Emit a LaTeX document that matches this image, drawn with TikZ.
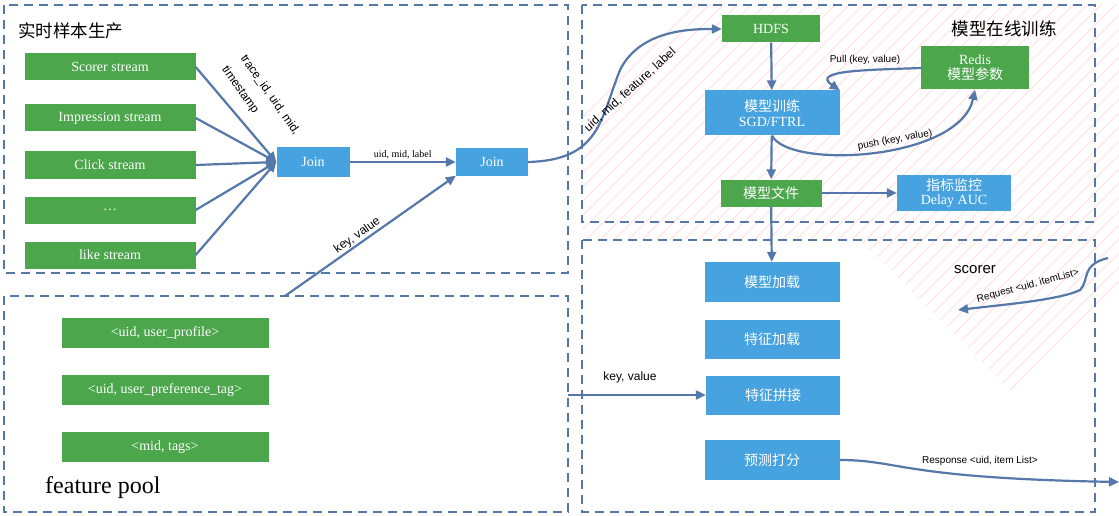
\documentclass[tikz,border=0pt]{standalone}
\usepackage{fontspec}
\newfontfamily\cjk{Noto Sans CJK SC}
\setmainfont{Liberation Serif}
\setsansfont{Liberation Sans}
\usetikzlibrary{arrows.meta}
\definecolor{gbox}{HTML}{4CA64C}
\definecolor{bbox}{HTML}{47A3E0}
\definecolor{lineb}{HTML}{5577AA}
\newcommand\fbx{\fontsize{14}{17}\selectfont}
\newcommand\flab{\fontsize{12}{14}\selectfont}
\newcommand\fsm{\fontsize{10}{12}\selectfont}
\begin{document}
\begin{tikzpicture}[x=1pt,y=-1pt,
 gb/.style={fill=gbox,text=white,minimum height=27pt,inner sep=0pt,font=\fbx},
 bb/.style={fill=bbox,text=white,inner sep=0pt,font=\fbx},
 pan/.style={draw=lineb,line width=2pt,dash pattern=on 9pt off 6pt},
 ar/.style={draw=lineb,line width=2.2pt,-{Triangle[length=10pt,width=9pt]}},
 lab/.style={font=\sffamily\flab,inner sep=1pt}]
\useasboundingbox (0,0) rectangle (1119,516);
\fill[white] (0,0) rectangle (1119,516);
\begin{scope}
\clip (582,5) rectangle (1119,516);
\foreach \i in {0,14,...,700} \draw[red!10,line width=1.2pt] (700+\i,0) -- (700+\i-520,520);
\fill[white] (582,240) -- (860,240) -- (1119,500) -- (1119,516) -- (582,516) -- cycle;
\end{scope}
\draw[pan] (4,5) rectangle (568,273);
\draw[pan] (4,296) rectangle (568,512);
\draw[pan] (582,5) rectangle (1095,222);
\draw[pan] (582,240) rectangle (1095,512);
\node[font=\cjk\fontsize{17.5}{20}\selectfont,anchor=west,inner sep=0pt] (t1) at (18,31) {实时样本生产};
\node[font=\fontsize{24}{26}\selectfont,anchor=west,inner sep=0pt] (t2) at (45,488) {feature pool};
\node[font=\cjk\fontsize{17.5}{20}\selectfont,anchor=east,inner sep=0pt] (t3) at (1057,29) {模型在线训练};
\node[font=\sffamily\fontsize{15}{17}\selectfont] (t4) at (975,270) {scorer};
\node[gb,minimum width=171pt] (s1) at (110,67) {Scorer stream};
\node[gb,minimum width=171pt] (s2) at (110,118) {Impression stream};
\node[gb,minimum width=171pt] (s3) at (110,165) {Click stream};
\node[gb,minimum width=171pt] (s4) at (110,210) {\dots};
\node[gb,minimum width=171pt] (s5) at (110,255) {like stream};
\node[bb,minimum width=73pt,minimum height=29pt] (j1) at (313,162) {Join};
\node[bb,minimum width=72pt,minimum height=27pt] (j2) at (492,162) {Join};
\node[gb,minimum width=207pt,minimum height=30pt] (f1) at (165,333) {<uid, user\_profile>};
\node[gb,minimum width=207pt,minimum height=30pt] (f2) at (165,390) {<uid, user\_preference\_tag>};
\node[gb,minimum width=207pt,minimum height=30pt] (f3) at (165,447) {<mid, tags>};
\node[gb,minimum width=98pt] (hdfs) at (771,29) {HDFS};
\node[gb,minimum width=108pt,minimum height=43pt,align=center,font=\cjk\fbx] (redis) at (975,68) {\rmfamily Redis\\[-2pt]模型参数};
\node[bb,minimum width=135pt,minimum height=45pt,align=center,font=\cjk\fbx] (train) at (772,113) {模型训练\\[-2pt]\rmfamily SGD/FTRL};
\node[gb,minimum width=101pt,font=\cjk\fbx] (mf) at (771,193) {模型文件};
\node[bb,minimum width=114pt,minimum height=36pt,align=center,font=\cjk\fbx] (mon) at (954,193) {指标监控\\[-3pt]\rmfamily Delay AUC};
\node[bb,minimum width=135pt,minimum height=40pt,font=\cjk\fbx] (l1) at (772,282) {模型加载};
\node[bb,minimum width=135pt,minimum height=39pt,font=\cjk\fbx] (l2) at (772,339) {特征加载};
\node[bb,minimum width=134pt,minimum height=39pt,font=\cjk\fbx] (l3) at (773,395) {特征拼接};
\node[bb,minimum width=135pt,minimum height=40pt,font=\cjk\fbx] (l4) at (772,460) {预测打分};
\foreach \s in {s1,s2,s3,s4,s5} \draw[ar] (\s.east) -- (j1.west);
\node[lab,rotate=-55] at (270,95) {trace\_id, uid, mid,};
\node[lab,rotate=-55] at (240,90) {timestamp};
\draw[ar] (j1) -- node[above,font=\fsm,inner sep=2pt] {uid, mid, label} (j2);
\coordinate (kv) at (285,296);
\draw[ar] (kv) -- node[above,sloped,lab,pos=0.45] {key, value} (j2.south west);
\draw[ar] (j2.east) .. controls (600,160) and (600,120) .. (620,70) .. controls (640,30) and (690,29) .. (hdfs.west);
\node[lab,rotate=42] at (630,90) {uid, mid, feature, label};
\draw[ar] (hdfs) -- (train);
\draw[ar] (redis.west) .. controls (870,70) and (810,70) .. (train.north east);
\node[lab,font=\sffamily\fsm] at (865,60) {Pull (key, value)};
\draw[ar] (train.south) .. controls (790,170) and (960,160) .. (redis.south);
\node[lab,font=\sffamily\fsm,rotate=10] at (895,140) {push (key, value)};
\draw[ar] (train) -- (mf);
\draw[ar] (mf) -- (mon);
\draw[ar] (mf) -- (l1);
\coordinate (kv2) at (568,395);
\draw[ar] (kv2) -- (l3.west);
\node[lab] at (630,377) {key, value};
\coordinate (rq) at (1108,258);
\coordinate (rqe) at (958,310);
\draw[ar] (rq) .. controls (1080,265) and (1090,280) .. (1080,290) .. controls (1060,300) and (1000,305) .. (rqe);
\node[lab,font=\sffamily\fsm,rotate=15] at (1028,286) {Request <uid, itemList>};
\coordinate (rs) at (1119,482);
\draw[ar] (l4.east) .. controls (900,460) and (900,478) .. (rs);
\node[lab,font=\sffamily\fsm] at (980,461) {Response <uid, item List>};
\end{tikzpicture}
\end{document}
